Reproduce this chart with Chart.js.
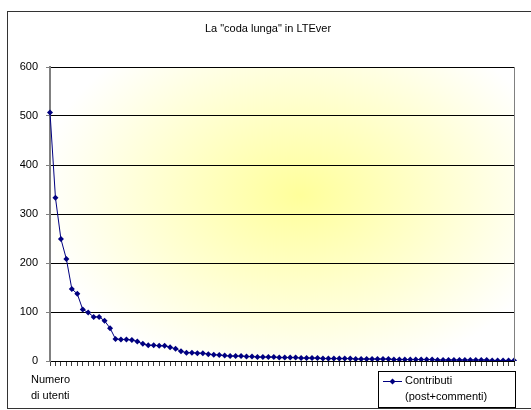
<!DOCTYPE html>
<html>
<head>
<meta charset="utf-8">
<script src="https://cdn.jsdelivr.net/npm/chart.js@4"></script>
<style>
html,body{margin:0;padding:0;background:#fff;}
#wrap{position:relative;width:531px;height:410px;}
</style>
</head>
<body>
<div id="wrap"><canvas id="c" width="531" height="410"></canvas></div>
<script>
const titleText = 'La "coda lunga" in LTEver';
const seriesName = ['Contributi', '(post+commenti)'];
const xTitle = ['Numero', 'di utenti'];
const yTicks = [0, 100, 200, 300, 400, 500, 600];
const contributi = [
  507,333,249,208,147,137,105,99,90,90,82,67,45,
  44,44,43,40,35,32,32,31,31,28,25,20,17,17,16,16,
  14,13,12,11,10,10,10,9,9,8,8,8,8,7,7,7,7,6,
  6,6,6,5,5,5,5,5,5,4,4,4,4,4,4,4,3,3,3,3,3,3,3,3,
  2,2,2,2,2,2,2,2,2,2,1,1,1,1,1
];
const categories = contributi.map((v, i) => String(i + 1));

const FONT = '"Liberation Sans", Arial, sans-serif';

const decor = {
  id: 'decor',
  beforeDraw(chart) {
    const ctx = chart.ctx;
    const a = chart.chartArea;
    ctx.save();
    ctx.fillStyle = '#fff';
    ctx.fillRect(0, 0, chart.width, chart.height);
    // plot background elliptical radial gradient
    ctx.beginPath();
    ctx.rect(a.left, a.top, a.right - a.left, a.bottom - a.top);
    ctx.clip();
    const cx = 300, cy = 195;
    ctx.translate(cx, cy);
    ctx.scale(1.25, 0.9);
    const g = ctx.createRadialGradient(0, 0, 0, 0, 0, 210);
    g.addColorStop(0, 'rgb(255,255,155)');
    g.addColorStop(0.5, 'rgb(255,255,205)');
    g.addColorStop(1, 'rgb(255,255,255)');
    ctx.fillStyle = g;
    ctx.fillRect(-400, -400, 800, 800);
    ctx.restore();
  },
  afterDraw(chart) {
    const ctx = chart.ctx;
    const a = chart.chartArea;
    ctx.save();
    // outer frame
    ctx.strokeStyle = '#333';
    ctx.lineWidth = 1;
    ctx.strokeRect(7.5, 11.5, 540, 397);
    // plot right border
    ctx.strokeStyle = '#808080';
    ctx.beginPath();
    ctx.moveTo(Math.round(a.right) + 0.5, a.top);
    ctx.lineTo(Math.round(a.right) + 0.5, a.bottom);
    ctx.stroke();
    // title
    ctx.fillStyle = '#000';
    ctx.font = '11px ' + FONT;
    ctx.textAlign = 'center';
    ctx.textBaseline = 'middle';
    ctx.fillText(titleText, 268, 29);
    // x title
    ctx.textAlign = 'left';
    ctx.fillText(xTitle[0], 31, 380);
    ctx.fillText(xTitle[1], 31, 396);
    // legend
    const lx = 378, ly = 371, lw = 137, lh = 36;
    ctx.strokeStyle = '#000';
    ctx.strokeRect(lx + 0.5, ly + 0.5, lw, lh);
    ctx.strokeStyle = '#000080';
    ctx.beginPath();
    ctx.moveTo(lx + 5, 381.5);
    ctx.lineTo(lx + 24, 381.5);
    ctx.stroke();
    ctx.fillStyle = '#000080';
    ctx.beginPath();
    const mx = lx + 14.5, my = 381.5, r = 3;
    ctx.moveTo(mx, my - r); ctx.lineTo(mx + r, my); ctx.lineTo(mx, my + r); ctx.lineTo(mx - r, my);
    ctx.closePath(); ctx.fill();
    ctx.fillStyle = '#000';
    ctx.fillText(seriesName[0], lx + 27, 381);
    ctx.fillText(seriesName[1], lx + 27, 397);
    ctx.restore();
  }
};

new Chart(document.getElementById('c'), {
  type: 'line',
  data: {
    labels: categories,
    datasets: [{
      label: seriesName.join(' '),
      data: contributi,
      borderColor: '#000080',
      backgroundColor: '#000080',
      borderWidth: 1,
      pointStyle: 'rectRot',
      pointRadius: 3,
      pointBorderWidth: 0,
      pointBackgroundColor: '#000080',
      tension: 0
    }]
  },
  options: {
    responsive: false,
    animation: false,
    devicePixelRatio: 1,
    layout: { padding: { left: 0, top: 67, right: 17, bottom: 0 } },
    plugins: { legend: { display: false }, title: { display: false }, tooltip: { enabled: false } },
    scales: {
      x: {
        type: 'category',
        offset: false,
        grid: { drawOnChartArea: false, drawTicks: true, tickLength: 5, color: '#404040', tickColor: '#404040' },
        border: { display: true, color: '#000' },
        ticks: { display: false, autoSkip: false },
        afterFit(s) { s.height = 49; }
      },
      y: {
        min: 0, max: 600,
        grid: { color: '#000', lineWidth: 1, tickLength: 4, tickColor: '#808080' },
        border: { display: true, color: '#808080', width: 2 },
        ticks: {
          stepSize: 100, padding: 8, color: '#000',
          font: { family: FONT, size: 11 },
          callback: (v) => yTicks.includes(v) ? String(v) : ''
        },
        afterFit(s) { s.width = 50; }
      }
    }
  },
  plugins: [decor]
});
</script>
</body>
</html>
